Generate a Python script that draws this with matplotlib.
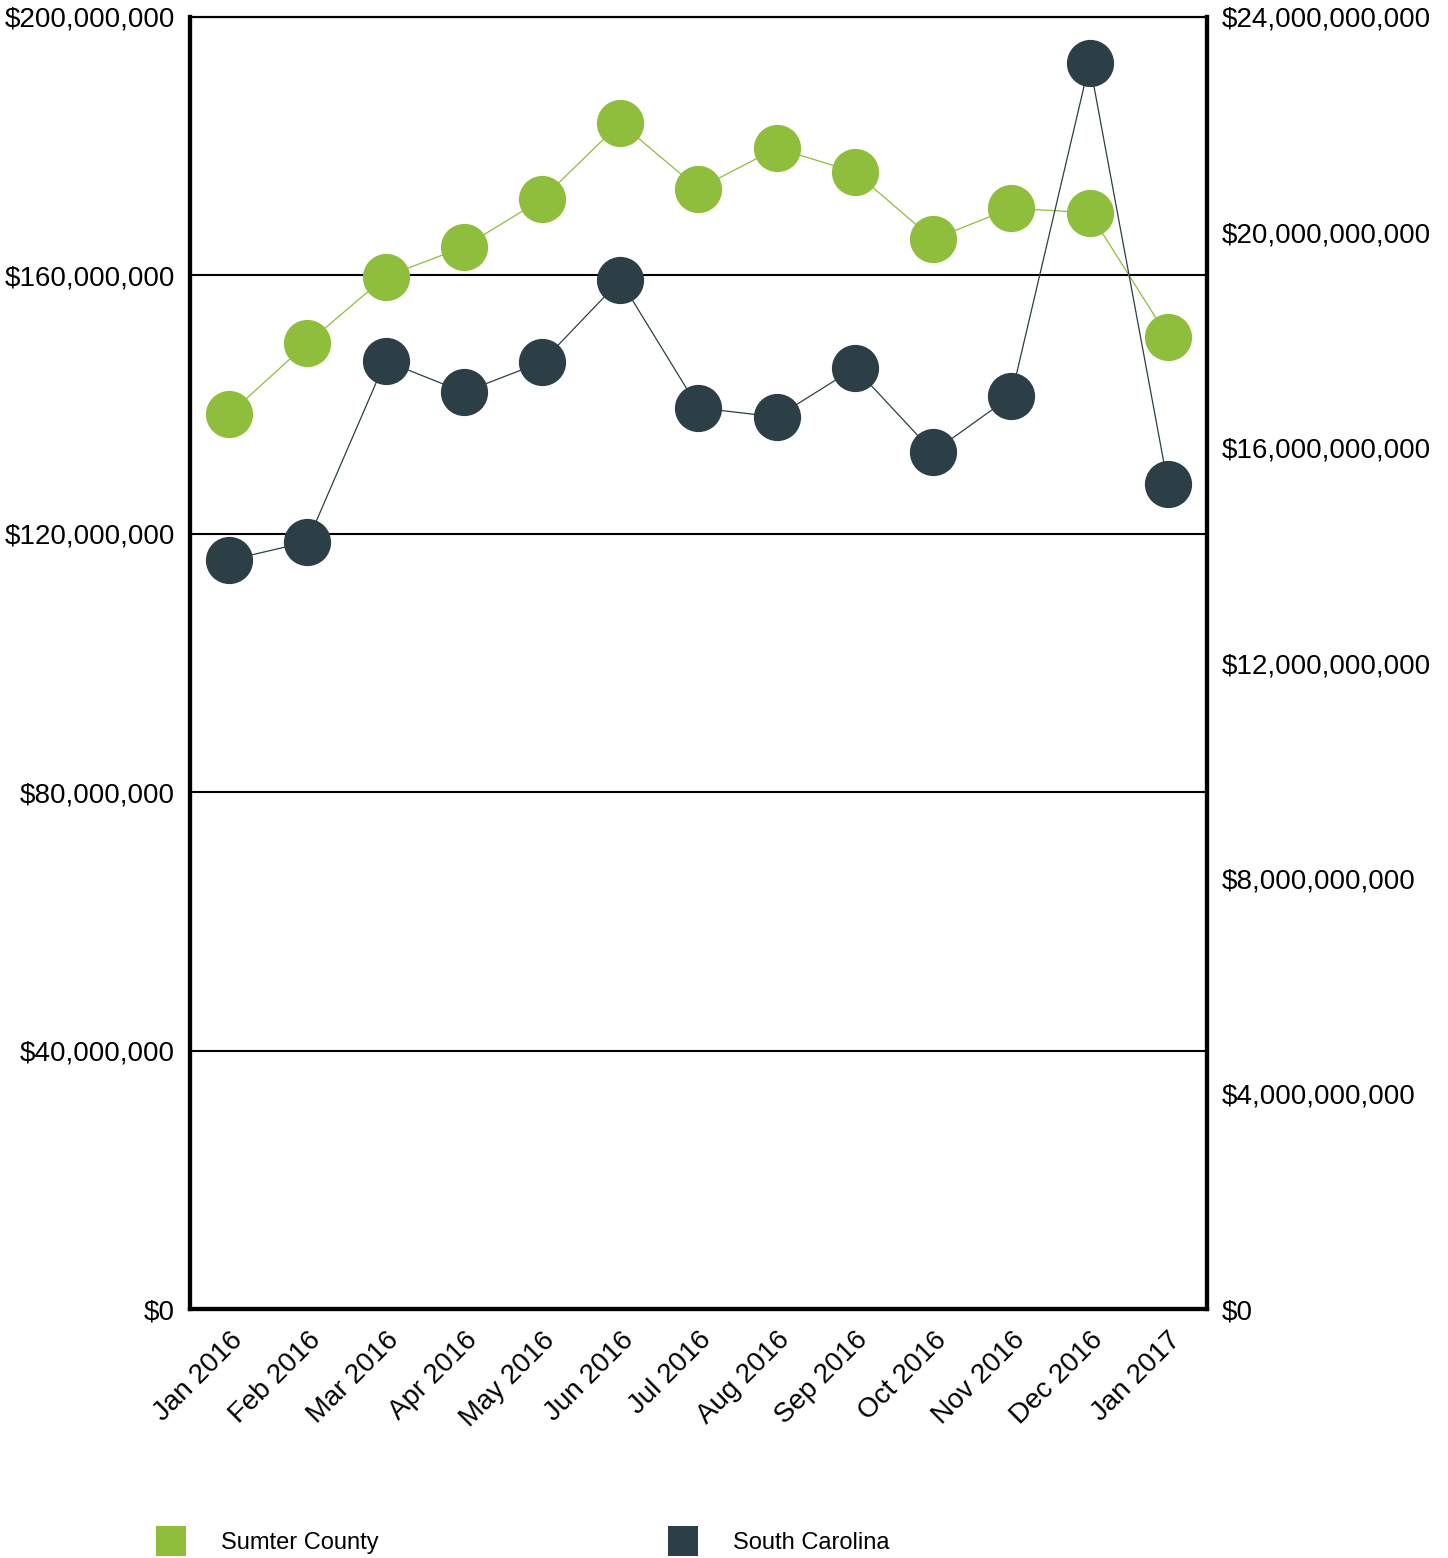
import matplotlib.pyplot as plt
from matplotlib.lines import Line2D
from matplotlib.ticker import FuncFormatter

plt.rcParams['font.family'] = ['Liberation Sans', 'DejaVu Sans']

# months on the x axis
months = ["Jan 2016", "Feb 2016", "Mar 2016", "Apr 2016", "May 2016", "Jun 2016",
          "Jul 2016", "Aug 2016", "Sep 2016", "Oct 2016", "Nov 2016", "Dec 2016", "Jan 2017"]

# Sumter County (left axis, dollars)
sumter = [138.5e6, 149.5e6, 159.8e6, 164.4e6, 171.8e6, 183.6e6, 173.4e6,
          179.7e6, 176.0e6, 165.6e6, 170.4e6, 169.7e6, 150.5e6]

# South Carolina (right axis, dollars)
south_carolina = [13.91e9, 14.25e9, 17.61e9, 17.03e9, 17.59e9, 19.11e9, 16.74e9,
                  16.57e9, 17.48e9, 15.92e9, 16.96e9, 23.15e9, 15.33e9]

green = '#8fbe3c'
dark = '#2c3f47'

fig = plt.figure(figsize=(14.48, 15.58), dpi=100)
ax = fig.add_axes([0.1312, 0.1598, 0.7023, 0.8293])
ax2 = ax.twinx()

x = list(range(len(months)))
ax.plot(x, sumter, color=green, lw=0.9, marker='o', markersize=34,
        markeredgewidth=0, zorder=3, clip_on=False)
ax2.plot(x, south_carolina, color=dark, lw=0.9, marker='o', markersize=34,
         markeredgewidth=0, zorder=3, clip_on=False)

ax.set_xlim(-0.5, len(months) - 0.5)
ax.set_ylim(0, 200e6)
ax2.set_ylim(0, 24e9)
ax.set_yticks([0, 40e6, 80e6, 120e6, 160e6, 200e6])
ax2.set_yticks([0, 4e9, 8e9, 12e9, 16e9, 20e9, 24e9])

money = FuncFormatter(lambda v, p: '${:,.0f}'.format(v))
ax.yaxis.set_major_formatter(money)
ax2.yaxis.set_major_formatter(money)

ax.yaxis.grid(True, color='black', lw=1.5)
ax.set_axisbelow(True)

ax.set_xticks(x)
ax.set_xticklabels(months, rotation=45, ha='right', va='top', rotation_mode='anchor')

ax.tick_params(axis='both', length=0, labelsize=20, pad=11)
ax2.tick_params(axis='y', length=0, labelsize=20, pad=11)
ax.tick_params(axis='x', pad=13)

for a in (ax, ax2):
    for side in ('left', 'right', 'bottom'):
        a.spines[side].set_linewidth(3)
    a.spines['top'].set_linewidth(1.5)

handles = [Line2D([], [], ls='none', marker='s', markersize=21, color=green, markeredgewidth=0),
           Line2D([], [], ls='none', marker='s', markersize=21, color=dark, markeredgewidth=0)]
fig.legend(handles, ['Sumter County', 'South Carolina'], loc='center left',
           bbox_to_anchor=(153 / 1448, 1 - 1543 / 1558), ncol=2, frameon=False,
           fontsize=17, handlelength=1.5, handletextpad=1.4, columnspacing=12.1,
           borderpad=0, borderaxespad=0)

fig.savefig('out.png', dpi=100)
